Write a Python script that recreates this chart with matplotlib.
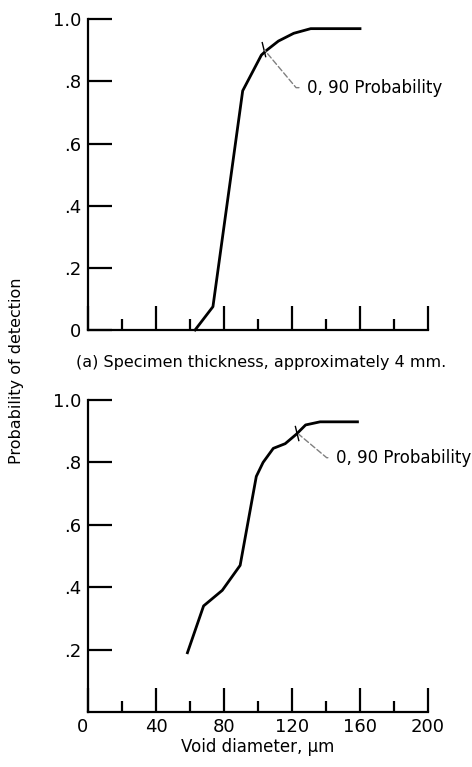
import matplotlib
matplotlib.use("Agg")
import matplotlib.pyplot as plt
from matplotlib.ticker import MultipleLocator

plt.rcParams['font.family'] = ['Liberation Sans Narrow', 'DejaVu Sans']

# (a) specimen thickness ~4 mm
diam_a = [63, 73.5, 91, 102, 105, 112, 121, 131, 160]
prob_a = [0.0, 0.075, 0.77, 0.885, 0.90, 0.93, 0.955, 0.97, 0.97]

# (b) second specimen
diam_b = [58.5, 68, 79, 89.5, 93.5, 99, 103, 109, 116, 122.5, 128, 136.5, 158.5]
prob_b = [0.19, 0.34, 0.39, 0.47, 0.59, 0.755, 0.80, 0.845, 0.86, 0.89, 0.92, 0.93, 0.93]

yticks_a = [0, 0.2, 0.4, 0.6, 0.8, 1.0]
ylabels_a = ["0", ".2", ".4", ".6", ".8", "1.0"]
yticks_b = [0.2, 0.4, 0.6, 0.8, 1.0]
ylabels_b = [".2", ".4", ".6", ".8", "1.0"]
xticks = [0, 40, 80, 120, 160, 200]

fig = plt.figure(figsize=(4.72, 7.67), dpi=100)
ax1 = fig.add_axes([0.1864, 0.5698, 0.7204, 0.405])
ax2 = fig.add_axes([0.1864, 0.0717, 0.7204, 0.4068])

lw = 2.0
for ax in (ax1, ax2):
    ax.set_xlim(0, 200)
    ax.set_ylim(0, 1.0)
    ax.spines['top'].set_visible(False)
    ax.spines['right'].set_visible(False)
    ax.spines['left'].set_linewidth(1.6)
    ax.spines['bottom'].set_linewidth(1.6)
    ax.xaxis.set_minor_locator(MultipleLocator(20))
    ax.set_xticks(xticks)
    ax.tick_params(axis='x', which='major', direction='in', length=17, width=1.6)
    ax.tick_params(axis='x', which='minor', direction='in', length=8, width=1.6)
    ax.tick_params(axis='y', which='major', direction='in', length=17, width=1.6,
                   pad=5, labelsize=13)
    ax.tick_params(axis='x', labelsize=13, pad=4)

ax1.plot(diam_a, prob_a, color='black', lw=lw, clip_on=False)
ax1.set_yticks(yticks_a)
ax1.set_yticklabels(ylabels_a)
ax1.set_xticklabels([])
ax1.plot([102.5, 104.5], [0.925, 0.88], color='black', lw=1)
ax1.annotate("0, 90 Probability", xy=(104, 0.90), xytext=(129, 0.78),
             fontsize=12, va='center', ha='left',
             arrowprops=dict(arrowstyle='-', color='gray', lw=1, ls=(0, (4, 2)),
                             connectionstyle='angle,angleA=0,angleB=-50,rad=0',
                             shrinkA=4, shrinkB=0))

ax2.plot(diam_b, prob_b, color='black', lw=lw, clip_on=False)
ax2.set_yticks(yticks_b)
ax2.set_yticklabels(ylabels_b)
ax2.set_xticklabels([str(v) for v in xticks])
ax2.get_xticklabels()[0].set_ha('right')
ax2.plot([122, 124], [0.915, 0.87], color='black', lw=1)
ax2.annotate("0, 90 Probability", xy=(124, 0.89), xytext=(146, 0.815),
             fontsize=12, va='center', ha='left',
             arrowprops=dict(arrowstyle='-', color='gray', lw=1, ls=(0, (4, 2)),
                             connectionstyle='angle,angleA=0,angleB=-40,rad=0',
                             shrinkA=4, shrinkB=0))
ax2.set_xlabel("Void diameter, \u03bcm", fontsize=12, labelpad=2)

fig.text(0.553, 0.528, "(a) Specimen thickness, approximately 4 mm.",
         ha='center', va='center', fontsize=11.5)
fig.text(0.036, 0.517, "Probability of detection", rotation=90,
         ha='center', va='center', fontsize=11.5)

fig.savefig("out.png", dpi=100)
